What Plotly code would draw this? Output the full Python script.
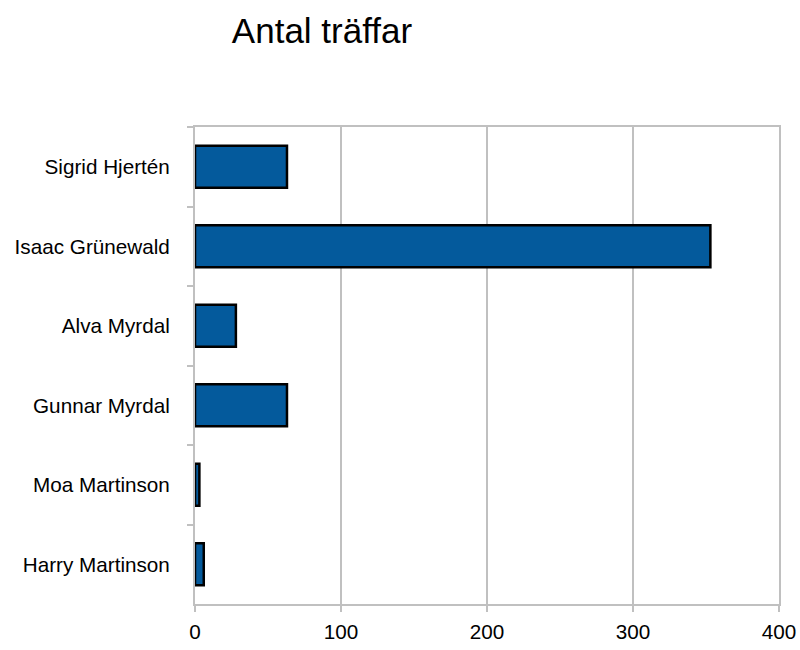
import plotly.graph_objects as go

names = ["Sigrid Hjertén", "Isaac Grünewald", "Alva Myrdal", "Gunnar Myrdal", "Moa Martinson", "Harry Martinson"]
values = [63, 353, 28, 63, 3, 6]
x_ticks = [0, 100, 200, 300, 400]
title_text = "Antal träffar"

FONT = "Liberation Sans, Arial, sans-serif"
GRID = "#c0c0c0"

W, H = 800, 650

fig = go.Figure(go.Bar(
    y=names, x=values, orientation="h",
    marker=dict(color="#045a9c", line=dict(color="#000000", width=2.5)),
))

fig.update_layout(
    width=W, height=H,
    margin=dict(l=195, r=21, t=127, b=46, autoexpand=False),
    paper_bgcolor="white", plot_bgcolor="white",
    bargap=0.47,
    showlegend=False,
    font=dict(family=FONT, color="#000000"),
    title=dict(text=title_text, x=322 / W, xanchor="center", xref="container",
               y=1 - 31 / H, yanchor="middle", yref="container",
               font=dict(size=35, family=FONT, color="#000000")),
)

fig.update_xaxes(
    range=[0, 400], tickvals=x_ticks, ticktext=[str(v) for v in x_ticks],
    showgrid=True, gridcolor=GRID, gridwidth=2,
    showline=True, linecolor=GRID, linewidth=2, mirror=True,
    ticks="outside", ticklen=6, tickcolor=GRID, tickwidth=2,
    tickfont=dict(size=20.7, family=FONT, color="#000000"),
    ticklabelstandoff=2, zeroline=False,
)
fig.update_yaxes(
    type="category", autorange="reversed",
    showgrid=False,
    showline=True, linecolor=GRID, linewidth=2, mirror=True,
    ticks="outside", ticklen=6, tickcolor=GRID, tickwidth=2, tickson="boundaries",
    tickfont=dict(size=20.7, family=FONT, color="#000000"),
    ticklabelstandoff=19,
)

fig.write_html(
    "out.html",
    config={"displayModeBar": False},
    post_script="document.body.style.margin='0';document.body.style.overflow='hidden';",
)
